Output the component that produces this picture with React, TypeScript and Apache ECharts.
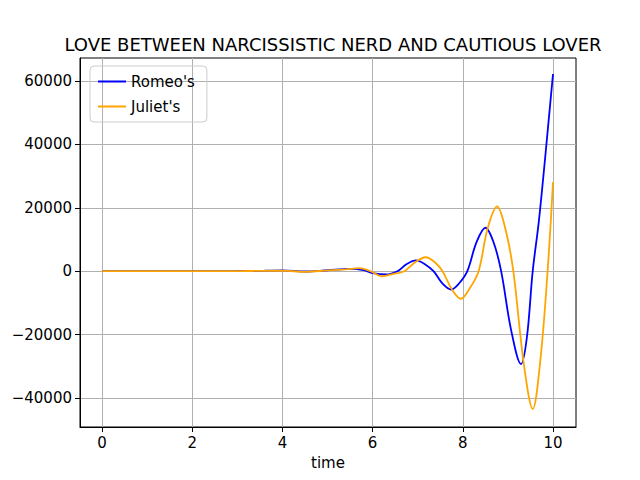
import React, { useEffect, useRef } from 'react';
import * as echarts from 'echarts';

const romeoT = [0, 1, 2, 3, 3.6, 4, 4.5, 5.0, 5.5, 5.8, 6.0, 6.3, 6.55, 6.75, 6.96, 7.15, 7.35, 7.55, 7.74, 7.92, 8.1, 8.3, 8.5, 8.68, 8.85, 9.07, 9.29, 9.42, 9.55, 9.68, 9.78, 9.9, 10];
const romeoV = [0, 0, 20, 60, 150, 250, -100, 300, 700, 300, -600, -1000, 0, 2200, 3400, 2300, 0, -3900, -5800, -3800, 0, 9000, 13700, 9200, 0, -18500, -29300, -21000, 0, 15000, 29000, 47000, 62200];
const julietT = [0, 1, 2, 3, 3.6, 4, 4.5, 5.0, 5.4, 5.7, 5.95, 6.2, 6.45, 6.7, 6.95, 7.18, 7.38, 7.55, 7.76, 7.96, 8.15, 8.35, 8.55, 8.76, 8.95, 9.12, 9.35, 9.55, 9.72, 9.88, 10];
const julietV = [0, 0, 10, 40, 100, 150, -200, 250, 600, 950, 0, -1600, -900, 0, 2900, 4400, 2800, 0, -5800, -8700, -5500, 0, 13500, 20400, 13000, 0, -29000, -43500, -28000, 0, 28100];
const xTicks = [0, 2, 4, 6, 8, 10];
const yTicks = [-40000, -20000, 0, 20000, 40000, 60000];

const font = '"Comic Sans MS", "DejaVu Sans", sans-serif';

export default function App() {
  const ref = useRef<HTMLDivElement>(null);

  useEffect(() => {
    const chart = echarts.init(ref.current, null, { renderer: 'svg' });
    chart.setOption({
      animation: false,
      title: {
        text: 'LOVE BETWEEN NARCISSISTIC NERD AND CAUTIOUS LOVER',
        left: 328, top: 30, textAlign: 'center',
        textStyle: { fontFamily: font, fontSize: 18, fontWeight: 'normal', color: '#000' },
      },
      legend: {
        left: 90, top: 66, orient: 'vertical', itemGap: 10,
        borderColor: '#ccc', borderWidth: 1, borderRadius: 4, padding: [8, 12, 8, 8],
        itemWidth: 28, itemHeight: 2,
        textStyle: { fontFamily: font, fontSize: 15, color: '#000' },
        data: [{ name: "Romeo's", icon: 'rect' }, { name: "Juliet's", icon: 'rect' }],
      },
      grid: { left: 80, right: 64, top: 58, bottom: 53, show: true, borderColor: '#000', borderWidth: 1 },
      xAxis: {
        type: 'value', min: -0.49, max: 10.51,
        name: 'time', nameLocation: 'middle', nameGap: 28,
        nameTextStyle: { fontFamily: font, fontSize: 15, color: '#000' },
        axisLine: { onZero: false, lineStyle: { color: '#000' } },
        axisTick: { customValues: xTicks, length: 5, lineStyle: { color: '#000' } },
        axisLabel: { customValues: xTicks, fontFamily: font, fontSize: 15, color: '#000' },
        splitLine: { show: true, lineStyle: { color: '#b0b0b0' } },
      },
      yAxis: {
        type: 'value', min: -49150, max: 67250,
        axisLine: { show: true, onZero: false, lineStyle: { color: '#000' } },
        axisTick: { show: true, customValues: yTicks, length: 5, lineStyle: { color: '#000' } },
        axisLabel: {
          customValues: yTicks,
          fontFamily: font, fontSize: 15, color: '#000',
          formatter: (v: number) => (v < 0 ? '\u2212' + Math.abs(v) : String(v)),
        },
        splitLine: { show: true, lineStyle: { color: '#b0b0b0' } },
      },
      series: [
        {
          name: "Romeo's", type: 'line', smooth: 0.35, showSymbol: false,
          lineStyle: { color: '#0000ff', width: 1.8 }, itemStyle: { color: '#0000ff' },
          data: romeoT.map((t, i) => [t, romeoV[i]]),
        },
        {
          name: "Juliet's", type: 'line', smooth: 0.35, showSymbol: false,
          lineStyle: { color: '#ffa500', width: 1.8 }, itemStyle: { color: '#ffa500' },
          data: julietT.map((t, i) => [t, julietV[i]]),
        },
      ],
    });
    return () => chart.dispose();
  }, []);

  return <div ref={ref} style={{ width: 640, height: 480, margin: -8 }} />;
}
